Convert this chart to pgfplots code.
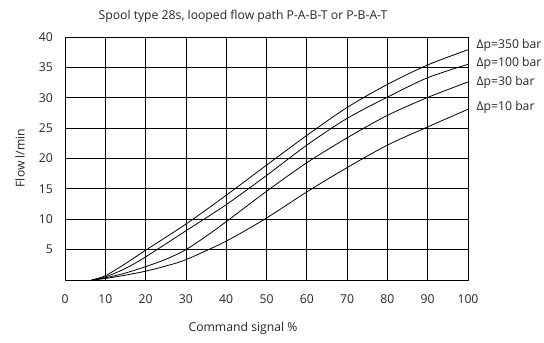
\documentclass[border=0pt]{standalone}
\usepackage{pgfplots}
\pgfplotsset{compat=1.18}
\usepackage{fontspec}
\setmainfont{Open Sans}
\newcommand{\lbl}{\fontsize{12.2}{14}\selectfont}
\begin{document}
\begin{tikzpicture}[x=1pt,y=1pt]
\path[use as bounding box] (0,0) rectangle (544,343);
\begin{axis}[
  at={(65pt,63pt)}, anchor=south west,
  scale only axis, width=403pt, height=243pt,
  xmin=0, xmax=100, ymin=0, ymax=40,
  xtick={0,10,...,100}, ytick={5,10,...,40},
  grid=major,
  grid style={black, line width=0.8pt},
  axis line style={black, line width=0.8pt},
  tick style={draw=none},
  tick label style={font=\lbl, text=black!85},
  /pgf/number format/assume math mode=true,
  xticklabel style={anchor=base, yshift=-24pt},
  yticklabel style={anchor=east, inner sep=0pt, xshift=-12pt},
  clip=false,
]
\addplot[black, line width=0.8pt, smooth] coordinates {
(6.6,0) (10,0.7) (15,2.7) (20,4.9) (30,9.2) (40,13.95) (50,18.9) (60,23.8) (70,28.4) (80,32.2) (90,35.4) (100,37.9)};
\addplot[black, line width=0.8pt, smooth] coordinates {
(6.6,0) (10,0.5) (15,1.9) (20,3.8) (30,8.1) (40,12.4) (50,17.2) (60,22.2) (70,26.6) (80,30.1) (90,33.3) (100,35.5)};
\addplot[black, line width=0.8pt, smooth] coordinates {
(6.6,0) (10,0.35) (15,1.15) (20,2.2) (25,3.4) (30,5.0) (35,7.2) (40,9.6) (50,14.6) (60,19.3) (70,23.4) (80,27.1) (90,30.05) (100,32.6)};
\addplot[black, line width=0.8pt, smooth] coordinates {
(6.6,0) (10,0.25) (15,0.8) (20,1.45) (25,2.3) (30,3.35) (40,6.4) (50,10.2) (60,14.5) (70,18.5) (80,22.2) (90,25.2) (100,28.1)};
\node[anchor=west, font=\lbl, text=black!85, inner sep=0pt] at (axis cs:100,38.7) [xshift=8.5pt] {Δp=350 bar};
\node[anchor=west, font=\lbl, text=black!85, inner sep=0pt] at (axis cs:100,35.7) [xshift=8.5pt] {Δp=100 bar};
\node[anchor=west, font=\lbl, text=black!85, inner sep=0pt] at (axis cs:100,32.5) [xshift=8.5pt] {Δp=30 bar};
\node[anchor=west, font=\lbl, text=black!85, inner sep=0pt] at (axis cs:100,28.4) [xshift=8.5pt] {Δp=10 bar};
\end{axis}
\node[font=\lbl, text=black!85] at (243,327) {Spool type 28s, looped flow path P-A-B-T or P-B-A-T};
\node[font=\lbl, text=black!85, rotate=90] at (20,185) {Flow l/min};
\node[font=\lbl, text=black!85] at (243,14.6) {Command signal \%};
\end{tikzpicture}
\end{document}
